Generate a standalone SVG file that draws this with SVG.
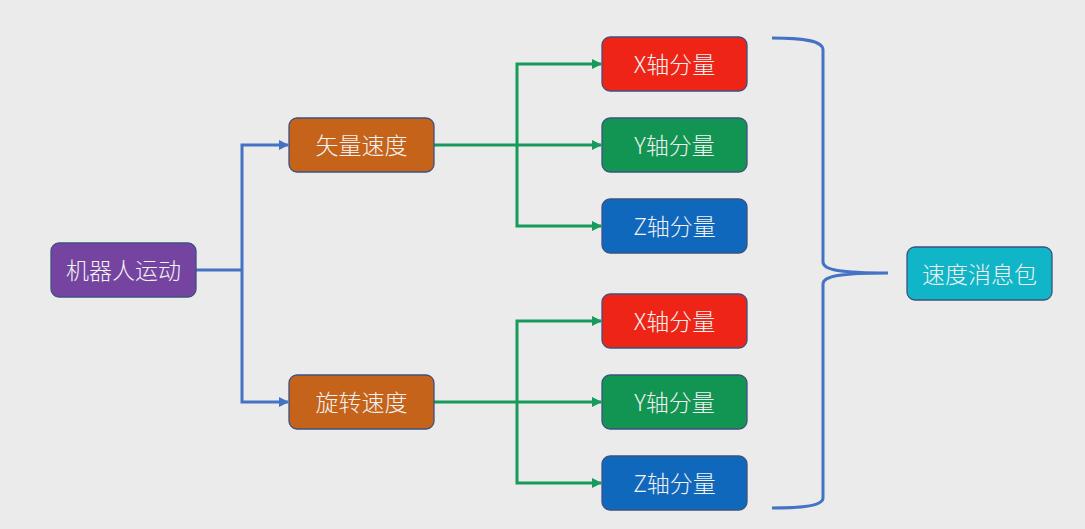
<svg xmlns="http://www.w3.org/2000/svg" width="1085" height="529" viewBox="0 0 1085 529">
<style>
.n{stroke:#3d5180;stroke-width:1.3}
.t{font-family:"Noto Sans CJK SC","Liberation Sans",sans-serif;font-size:23px;font-weight:300;fill:#f2f2f2;text-anchor:middle;dominant-baseline:central}
.b{fill:none;stroke:#4472c4;stroke-width:3}
.g{fill:none;stroke:#179b5c;stroke-width:3}
</style>
<defs>
<marker id="ab" markerWidth="10" markerHeight="10" refX="9" refY="5" orient="auto" markerUnits="userSpaceOnUse"><path d="M0,0 L10,5 L0,10 Z" fill="#4472c4"/></marker>
<marker id="ag" markerWidth="10" markerHeight="10" refX="9" refY="5" orient="auto" markerUnits="userSpaceOnUse"><path d="M0,0 L10,5 L0,10 Z" fill="#179b5c"/></marker>
</defs>
<rect width="1085" height="529" fill="#ebebeb"/>
<g id="connectors">
<path class="b" d="M196,270 H242"/>
<path class="b" d="M242,270 V145 H288" marker-end="url(#ab)"/>
<path class="b" d="M242,270 V402 H288" marker-end="url(#ab)"/>
<path class="g" d="M434,145 H601" marker-end="url(#ag)"/>
<path class="g" d="M517,145 V64 H601" marker-end="url(#ag)"/>
<path class="g" d="M517,145 V226 H601" marker-end="url(#ag)"/>
<path class="g" d="M434,402 H601" marker-end="url(#ag)"/>
<path class="g" d="M517,402 V321 H601" marker-end="url(#ag)"/>
<path class="g" d="M517,402 V483 H601" marker-end="url(#ag)"/>
<path class="b" d="M772,38 C800,38 823,40 823,50 V262 C823,270 840,273 888,273 M823,284 C823,276 840,273 888,273 M823,284 V498 C823,506 800,508 772,508"/>
</g>
<g id="n1"><rect class="n" x="51" y="243" width="145" height="54" rx="8" fill="#7544a0"/><text class="t" x="123.5" y="269">机器人运动</text></g>
<g id="n2"><rect class="n" x="289" y="118" width="145" height="54" rx="8" fill="#c5631a"/><text class="t" x="361.5" y="144">矢量速度</text></g>
<g id="n3"><rect class="n" x="289" y="375" width="145" height="54" rx="8" fill="#c5631a"/><text class="t" x="361.5" y="401">旋转速度</text></g>
<g id="n4"><rect class="n" x="602" y="37" width="145" height="54" rx="8" fill="#ee2416"/><text class="t" x="674.5" y="63">X轴分量</text></g>
<g id="n5"><rect class="n" x="602" y="118" width="145" height="54" rx="8" fill="#129452"/><text class="t" x="674.5" y="144">Y轴分量</text></g>
<g id="n6"><rect class="n" x="602" y="199" width="145" height="54" rx="8" fill="#1068bd"/><text class="t" x="674.5" y="225">Z轴分量</text></g>
<g id="n7"><rect class="n" x="602" y="294" width="145" height="54" rx="8" fill="#ee2416"/><text class="t" x="674.5" y="320">X轴分量</text></g>
<g id="n8"><rect class="n" x="602" y="375" width="145" height="54" rx="8" fill="#129452"/><text class="t" x="674.5" y="401">Y轴分量</text></g>
<g id="n9"><rect class="n" x="602" y="456" width="145" height="54" rx="8" fill="#1068bd"/><text class="t" x="674.5" y="482">Z轴分量</text></g>
<g id="n10"><rect class="n" x="907" y="247" width="145" height="53" rx="8" fill="#10b5c7"/><text class="t" x="979.5" y="272.5">速度消息包</text></g>
</svg>
